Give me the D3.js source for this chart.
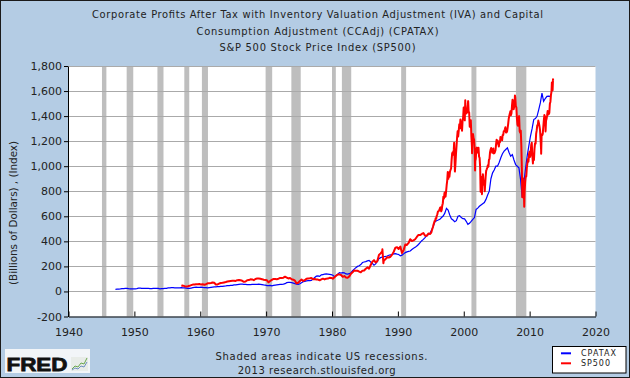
<!DOCTYPE html>
<html><head><meta charset="utf-8">
<script src="https://cdn.jsdelivr.net/npm/d3@7"></script>
<style>
body{margin:0;background:#b4cce4}
svg{display:block}
text{font-family:"DejaVu Sans",Verdana,sans-serif}
</style>
</head><body>
<svg id="c" width="630" height="378"></svg>
<script>
// ---------------- DATA ----------------
const titleLines = [
  "Corporate Profits After Tax with Inventory Valuation Adjustment (IVA) and Capital",
  "Consumption Adjustment (CCAdj) (CPATAX)",
  "S&P 500 Stock Price Index (SP500)"
];
const yAxisTitle = "(Billions of Dollars) , (Index)";
const footerLines = ["Shaded areas indicate US recessions.", "2013 research.stlouisfed.org"];
const seriesNames = ["CPATAX", "SP500"];
const seriesColors = ["#0000ff", "#ff0000"];

const xTicks = [1940, 1950, 1960, 1970, 1980, 1990, 2000, 2010, 2020];
const yTicks = [-200, 0, 200, 400, 600, 800, 1000, 1200, 1400, 1600, 1800];

const recessionStart = [1945.08, 1948.83, 1953.5, 1957.58, 1960.25, 1969.92, 1973.83, 1980.0, 1981.5, 1990.5, 2001.17, 2007.92];
const recessionEnd   = [1945.75, 1949.83, 1954.42, 1958.33, 1961.17, 1970.92, 1975.25, 1980.58, 1982.92, 1991.25, 2001.92, 2009.5];

// CPATAX quarterly, 1947Q1 ...
const cpataxStart = 1947.0;
const cpataxValues = [
  17,18,19,20, 22,23,24,24, 22,21,21,20, 21,23,26,27, 25,24,24,25,
  24,23,23,24, 25,25,24,21, 22,23,24,25, 28,29,30,31, 29,29,28,29,
  30,29,29,27, 24,24,27,30, 33,35,32,32, 34,32,31,30, 29,31,33,35,
  37,37,38,39, 40,41,43,44, 46,47,48,48, 52,53,55,57, 58,58,57,57,
  55,55,55,57, 56,57,57,58, 57,55,52,50, 47,47,48,44, 48,50,52,54,
  56,56,58,62, 70,72,72,70, 66,62,58,56, 62,70,78,80, 84,86,86,88,
  100,112,122,124, 120,132,135,138, 140,138,136,134, 130,118,128,138,
  150,146,150,148, 140,138,142,150, 165,178,190,200, 205,215,231,235,
  238,244,248,235, 225,209,220,240, 262,270,275,278, 280,283,289,292,
  295,300,302,298, 295,284,290,300, 310,316,320,323, 335,345,352,363,
  375,390,405,416, 430,445,455,464, 490,520,557,565, 570,576,590,602,
  625,663,650,610, 580,570,557,565, 600,605,590,581, 580,560,536,545,
  560,576,590,655, 665,680,690,700, 710,735,770,801, 900,947,970,1000,
  1000,1030,1067,1100, 1120,1133,1146,1110, 1080,1093,1050,1013,
  1000,987,894,750, 868,980,1080,1160, 1239,1300,1372,1380,
  1398,1450,1505,1584, 1518,1540,1558,1560, 1558
];

// SP500 quarterly 1957-1994
const sp500QStart = 1957.0;
const sp500QValues = [
  46,47,42,40, 42,45,50,55, 55,58,57,60, 55,57,54,58, 65,65,67,71,
  69,55,56,63, 67,69,72,75, 79,82,84,85, 86,84,90,92, 89,85,77,80,
  90,91,97,96, 90,100,103,104, 101,98,93,92, 89,73,84,92, 100,99,98,102,
  107,107,110,118, 111,104,108,97, 94,86,64,69, 83,95,84,90, 102,104,105,107,
  98,100,96,95, 89,96,102,96, 102,103,109,108, 102,114,125,136, 136,131,117,123,
  112,110,120,141, 153,168,166,165, 159,153,166,167, 181,192,182,211, 238,250,231,242,
  291,304,321,247, 258,273,271,277, 294,317,349,353, 339,358,306,330, 375,371,387,417,
  403,408,417,435, 451,450,459,466, 445,444,462,459
];
// SP500 month-end 1995-01 ... 2013-07
const sp500MStart = 1995.0;
const sp500MValues = [
  470,487,501,515,533,545,562,562,584,582,605,616,
  636,640,646,654,669,671,640,652,687,705,757,741,
  786,791,757,801,848,885,954,899,947,915,955,970,
  980,1049,1102,1112,1091,1134,1121,957,1017,1099,1164,1229,
  1280,1238,1286,1335,1302,1373,1329,1320,1283,1363,1389,1469,
  1394,1366,1499,1452,1421,1455,1431,1518,1437,1429,1315,1320,
  1366,1240,1160,1249,1256,1224,1211,1134,1041,1060,1139,1148,
  1130,1107,1147,1077,1067,990,912,916,815,886,936,880,
  856,841,848,917,964,975,990,1008,996,1051,1058,1112,
  1131,1145,1126,1107,1121,1141,1102,1104,1115,1130,1174,1212,
  1181,1204,1181,1157,1192,1191,1234,1220,1229,1207,1249,1248,
  1280,1281,1295,1311,1270,1270,1277,1304,1336,1378,1401,1418,
  1438,1407,1421,1482,1531,1503,1455,1474,1527,1549,1481,1468,
  1379,1331,1323,1386,1400,1280,1267,1283,1166,969,896,903,
  826,735,798,873,919,919,987,1021,1057,1036,1096,1115,
  1074,1104,1169,1187,1089,1031,1102,1049,1141,1183,1181,1258,
  1286,1327,1326,1364,1345,1321,1292,1219,1131,1253,1247,1258,
  1312,1366,1408,1398,1310,1362,1379,1407,1441,1412,1416,1426,
  1498,1515,1569,1598,1631,1606,1686
];
// SP500 daily extremes visible as spikes
const sp500SpikeDates  = [1987.65,1987.80,1998.54,2000.23,2000.67,2001.26,2001.72,2002.56,2002.77,2003.19,2007.77,2008.89,2009.18,2010.50,2011.32,2011.75,2012.42,2013.38,2013.55];
const sp500SpikeValues = [337,225,1187,1527,1520,1103,966,797,777,800,1565,752,677,1022,1364,1099,1278,1669,1695];

// ---------------- BUILD ----------------
const cpatax = cpataxValues.map((v,i)=>[cpataxStart + i*0.25 + 0.125, v]);
const sp500 = [
  ...sp500QValues.map((v,i)=>[sp500QStart + i*0.25 + 0.125, v]),
  ...sp500MValues.map((v,i)=>[sp500MStart + (i+1)/12 - 0.01, v]),
  ...sp500SpikeDates.map((d,i)=>[d, sp500SpikeValues[i]])
].sort((a,b)=>a[0]-b[0]);

const svg = d3.select("#c");
const W = 630, H = 378;
const L = 68, R = 595.5, T = 66, B = 316.5;

svg.append("rect").attr("x",0.5).attr("y",0.5).attr("width",W-1).attr("height",H-1)
  .attr("fill","#b4cce4").attr("stroke","#1a1a1a");

const x = d3.scaleLinear().domain([1940,2020]).range([L+0.5, R]);
const y = d3.scaleLinear().domain([-200,1800]).range([B, T]);

svg.append("rect").attr("x",L+0.5).attr("y",T).attr("width",R-L-0.5).attr("height",B-T).attr("fill","#ffffff");

svg.append("g").selectAll("rect").data(recessionStart).join("rect")
  .attr("x",(d)=>x(d)).attr("width",(d,i)=>x(recessionEnd[i])-x(d))
  .attr("y",T).attr("height",B-T).attr("fill","#bebebe");

svg.append("g").selectAll("line").data(yTicks.filter(t=>t>-200)).join("line")
  .attr("x1",L+0.5).attr("x2",R).attr("y1",d=>Math.round(y(d))+0.5).attr("y2",d=>Math.round(y(d))+0.5)
  .attr("stroke","#aaaaaa").attr("stroke-width",1);

const line = d3.line().x(d=>x(d[0])).y(d=>y(d[1]));
svg.append("path").datum(cpatax).attr("d",line).attr("fill","none")
  .attr("stroke",seriesColors[0]).attr("stroke-width",1.2);
svg.append("path").datum(sp500).attr("d",line).attr("fill","none")
  .attr("stroke",seriesColors[1]).attr("stroke-width",2).attr("stroke-linejoin","round");

const fmt = d3.format(",");
const yAxis = d3.axisLeft(y).tickValues(yTicks).tickSizeInner(4).tickSizeOuter(0).tickPadding(2)
  .tickFormat(d=>fmt(d).replace("\u2212","-"));
const gy = svg.append("g").attr("transform",`translate(${L},0)`).call(yAxis);
gy.selectAll("text").attr("font-size",11).attr("font-family","DejaVu Sans").attr("fill","#222");
gy.selectAll("line,path").attr("stroke","#000");

const xAxis = d3.axisBottom(x).tickValues(xTicks).tickSizeInner(-5).tickSizeOuter(0).tickPadding(11.5)
  .tickFormat(d3.format("d"));
const gx = svg.append("g").attr("transform",`translate(0,${B})`).call(xAxis);
gx.selectAll("text").attr("font-size",11).attr("font-family","DejaVu Sans").attr("fill","#222");
gx.selectAll("line,path").attr("stroke","#000");

// title
const titleY = [18, 34.5, 51];
const titleW = [451, 242, 196];
svg.append("g").selectAll("text").data(titleLines).join("text")
  .attr("x",317.5).attr("y",(d,i)=>titleY[i]).attr("text-anchor","middle")
  .attr("font-size",11).attr("fill","#222")
  .style("font-family","'DejaVu Sans Condensed','DejaVu Sans',sans-serif")
  .attr("textLength",(d,i)=>titleW[i]).attr("lengthAdjust","spacing")
  .text(d=>d);

// y-axis title
svg.append("text").attr("transform","translate(17,213) rotate(-90)").attr("text-anchor","middle")
  .attr("font-size",10).attr("fill","#222")
  .attr("textLength",144).attr("lengthAdjust","spacingAndGlyphs").text(yAxisTitle);

// footer
const footY = [359.5, 373.5];
const footW = [212, 158];
const footX = [321.5, 316.7];
svg.append("g").selectAll("text").data(footerLines).join("text")
  .attr("x",(d,i)=>footX[i]).attr("y",(d,i)=>footY[i]).attr("text-anchor","middle")
  .attr("font-size",10).attr("fill","#222")
  .attr("textLength",(d,i)=>footW[i]).attr("lengthAdjust","spacing").text(d=>d);

// legend
const lg = svg.append("g");
lg.append("rect").attr("x",552.5).attr("y",346.5).attr("width",73.5).attr("height",26.5)
  .attr("fill","#fff").attr("stroke","#000");
seriesNames.forEach((n,i)=>{
  const ly = 353.3 + i*10;
  lg.append("line").attr("x1",561).attr("x2",571).attr("y1",ly).attr("y2",ly)
    .attr("stroke",seriesColors[i]).attr("stroke-width",2);
  lg.append("text").attr("x",581).attr("y",ly+3).attr("font-size",8).attr("fill","#222")
    .attr("textLength",i===0?35:29).attr("lengthAdjust","spacing").text(n);
});

// FRED logo
const lgo = svg.append("g");
lgo.append("rect").attr("x",5).attr("y",349).attr("width",85).attr("height",24).attr("fill","#f2f5f8");
lgo.append("text").attr("x",6.5).attr("y",371).attr("font-size",19).attr("font-weight",900)
  .attr("fill","#111").attr("stroke","#111").attr("stroke-width",0.8)
  .style("font-family","'Liberation Sans',Arial,sans-serif")
  .attr("textLength",61).attr("lengthAdjust","spacingAndGlyphs").text("FRED");
lgo.append("rect").attr("x",71).attr("y",357).attr("width",17).attr("height",14).attr("fill","#e8ece8");
lgo.append("path").attr("d","M72,369 L75,366 L78,367 L81,363 L84,364 L87,358").attr("fill","none").attr("stroke","#6aa84f").attr("stroke-width",1);
lgo.append("path").attr("d","M72,370 L75,368 L78,369 L81,366 L84,367 L87,362").attr("fill","none").attr("stroke","#6f8fc0").attr("stroke-width",1);
</script>
</body></html>
